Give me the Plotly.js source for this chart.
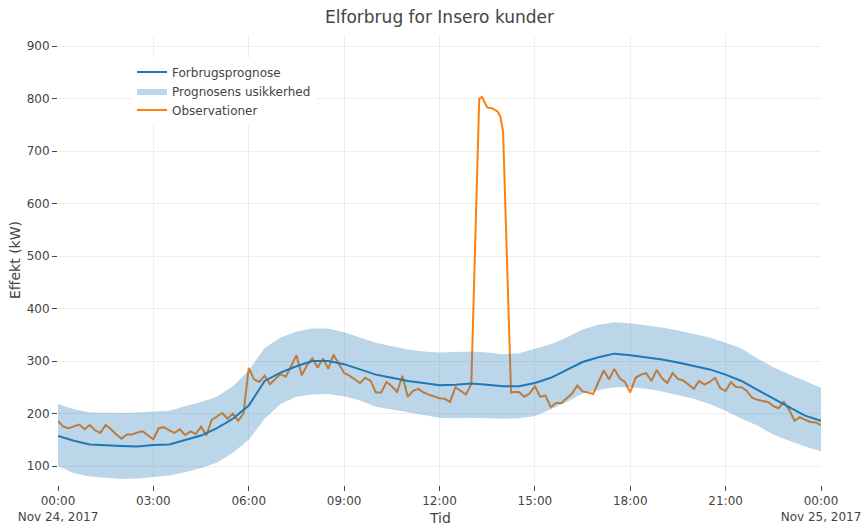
<!DOCTYPE html>
<html>
<head>
<meta charset="utf-8">
<script src="https://cdn.plot.ly/plotly-3.0.1.min.js"></script>
<style>html,body{margin:0;padding:0;background:#fff;}#chart{width:864px;height:526px;}</style>
</head>
<body>
<div id="chart"></div>
<script>
// Forecast and uncertainty band, every 30 minutes from 2017-11-24 00:00 to 2017-11-25 00:00
const forecastValues = [157,148,141,139,138,137,140,141,150,158,172,190,215,262,278,290,300,300,294,284,274,268,262,258,254,255,257,255,252,252,258,268,283,298,307,314,311,307,303,297,290,284,274,262,245,228,212,196,186];
const bandUpper = [218,208,202,201,201,202,203,205,214,222,232,252,282,325,345,356,362,362,355,345,335,328,322,318,316,317,318,316,313,315,323,332,345,360,369,374,372,368,364,358,352,345,335,324,305,288,275,262,249];
const bandLower = [100,86,80,77,75,76,79,82,88,96,106,125,150,190,218,232,236,237,233,225,213,207,202,197,192,191,192,191,190,191,195,208,222,238,245,250,250,247,242,235,228,218,205,190,177,160,148,137,128];

// Observations every 10 minutes, 00:00 - 13:00
const obsMorning = [186,175,172,176,179,170,178,168,163,178,170,160,152,160,160,164,166,158,151,172,174,168,163,170,159,166,161,175,158,188,195,201,190,200,186,200,287,265,260,272,256,265,275,270,290,311,273,292,305,287,305,285,312,295,277,272,265,258,268,262,240,240,260,252,241,272,232,243,247,240,236,232,229,228,222,250,243,236,256];
// Observations during the peak
const spikeTimes = ['13:15','13:20','13:30','13:40','13:50','13:55','14:00','14:15'];
const spikeValues = [800,803,783,781,775,765,737,240];
// Observations every 10 minutes, 14:20 - 24:00
const obsAfternoon = [241,241,232,238,252,232,234,212,220,220,229,238,253,242,240,237,260,282,265,285,267,260,240,268,274,277,262,283,267,258,277,266,263,255,247,262,255,260,268,248,243,260,250,250,243,230,226,224,222,214,210,222,207,186,193,188,184,183,178];

const seriesNames = ['Forbrugsprognose','Prognosens usikkerhed','Observationer'];

function stamp(minutes){
  const d = new Date(Date.UTC(2017,10,24,0,0) + minutes*60000);
  return d.toISOString().slice(0,16).replace('T',' ');
}
const bandX = forecastValues.map((_,i)=>stamp(i*30));
const obsX = [].concat(
  obsMorning.map((_,i)=>stamp(i*10)),
  spikeTimes.map(s=>'2017-11-24 '+s),
  obsAfternoon.map((_,i)=>stamp(14*60+20+i*10))
);
const obsY = [].concat(obsMorning, spikeValues, obsAfternoon);
// closed polygon for the band: upper edge forward, lower edge backward
const polyX = bandX.concat(bandX.slice().reverse());
const polyY = bandUpper.concat(bandLower.slice().reverse());

const font = 'DejaVu Sans, Verdana, sans-serif';
const traces = [
  {x: obsX, y: obsY, type:'scatter', mode:'lines', name: seriesNames[2], legendrank: 3,
   line:{color:'#ff7f0e', width:2}},
  {x: polyX, y: polyY, type:'scatter', mode:'lines', fill:'toself', name: seriesNames[1], legendrank: 2,
   fillcolor:'rgba(31,119,180,0.3)', line:{color:'rgba(31,119,180,0)', width:0}},
  {x: bandX, y: forecastValues, type:'scatter', mode:'lines', name: seriesNames[0], legendrank: 1,
   line:{color:'#1f77b4', width:2}}
];

const layout = {
  width:864, height:526,
  margin:{l:58, r:43, t:35, b:41},
  paper_bgcolor:'#fff', plot_bgcolor:'#fff',
  font:{family:font, size:12, color:'#444'},
  title:{text:'Elforbrug for Insero kunder', font:{family:font, size:17, color:'#444'},
    x:0.5, xref:'paper', y:0.967, yref:'container', yanchor:'middle'},
  showlegend:true,
  legend:{x:0.097, y:0.95, xanchor:'left', yanchor:'top', traceorder:'normal', tracegroupgap:0,
    bgcolor:'#fff', font:{size:12, color:'#444'}},
  xaxis:{type:'date', range:['2017-11-24 00:00','2017-11-25 00:00'], dtick:3*3600*1000,
    showgrid:true, gridcolor:'#eee', zeroline:false, ticks:'outside', ticklen:5, tickcolor:'#444',
    automargin:false, showline:false, tickfont:{size:12}},
  yaxis:{range:[63.8, 921], dtick:100, showgrid:true, gridcolor:'#eee', zeroline:false,
    ticks:'outside', ticklen:5, tickcolor:'#444', automargin:false, showline:false,
    title:{text:'Effekt (kW)', font:{size:14}}, tickfont:{size:12}},
  annotations:[{text:'Tid', xref:'paper', yref:'paper', x:0.5, y:-0.0733, xanchor:'center', yanchor:'middle',
    showarrow:false, font:{size:14, color:'#444'}}]
};

Plotly.newPlot('chart', traces, layout, {displayModeBar:false, staticPlot:true});
</script>
</body>
</html>
